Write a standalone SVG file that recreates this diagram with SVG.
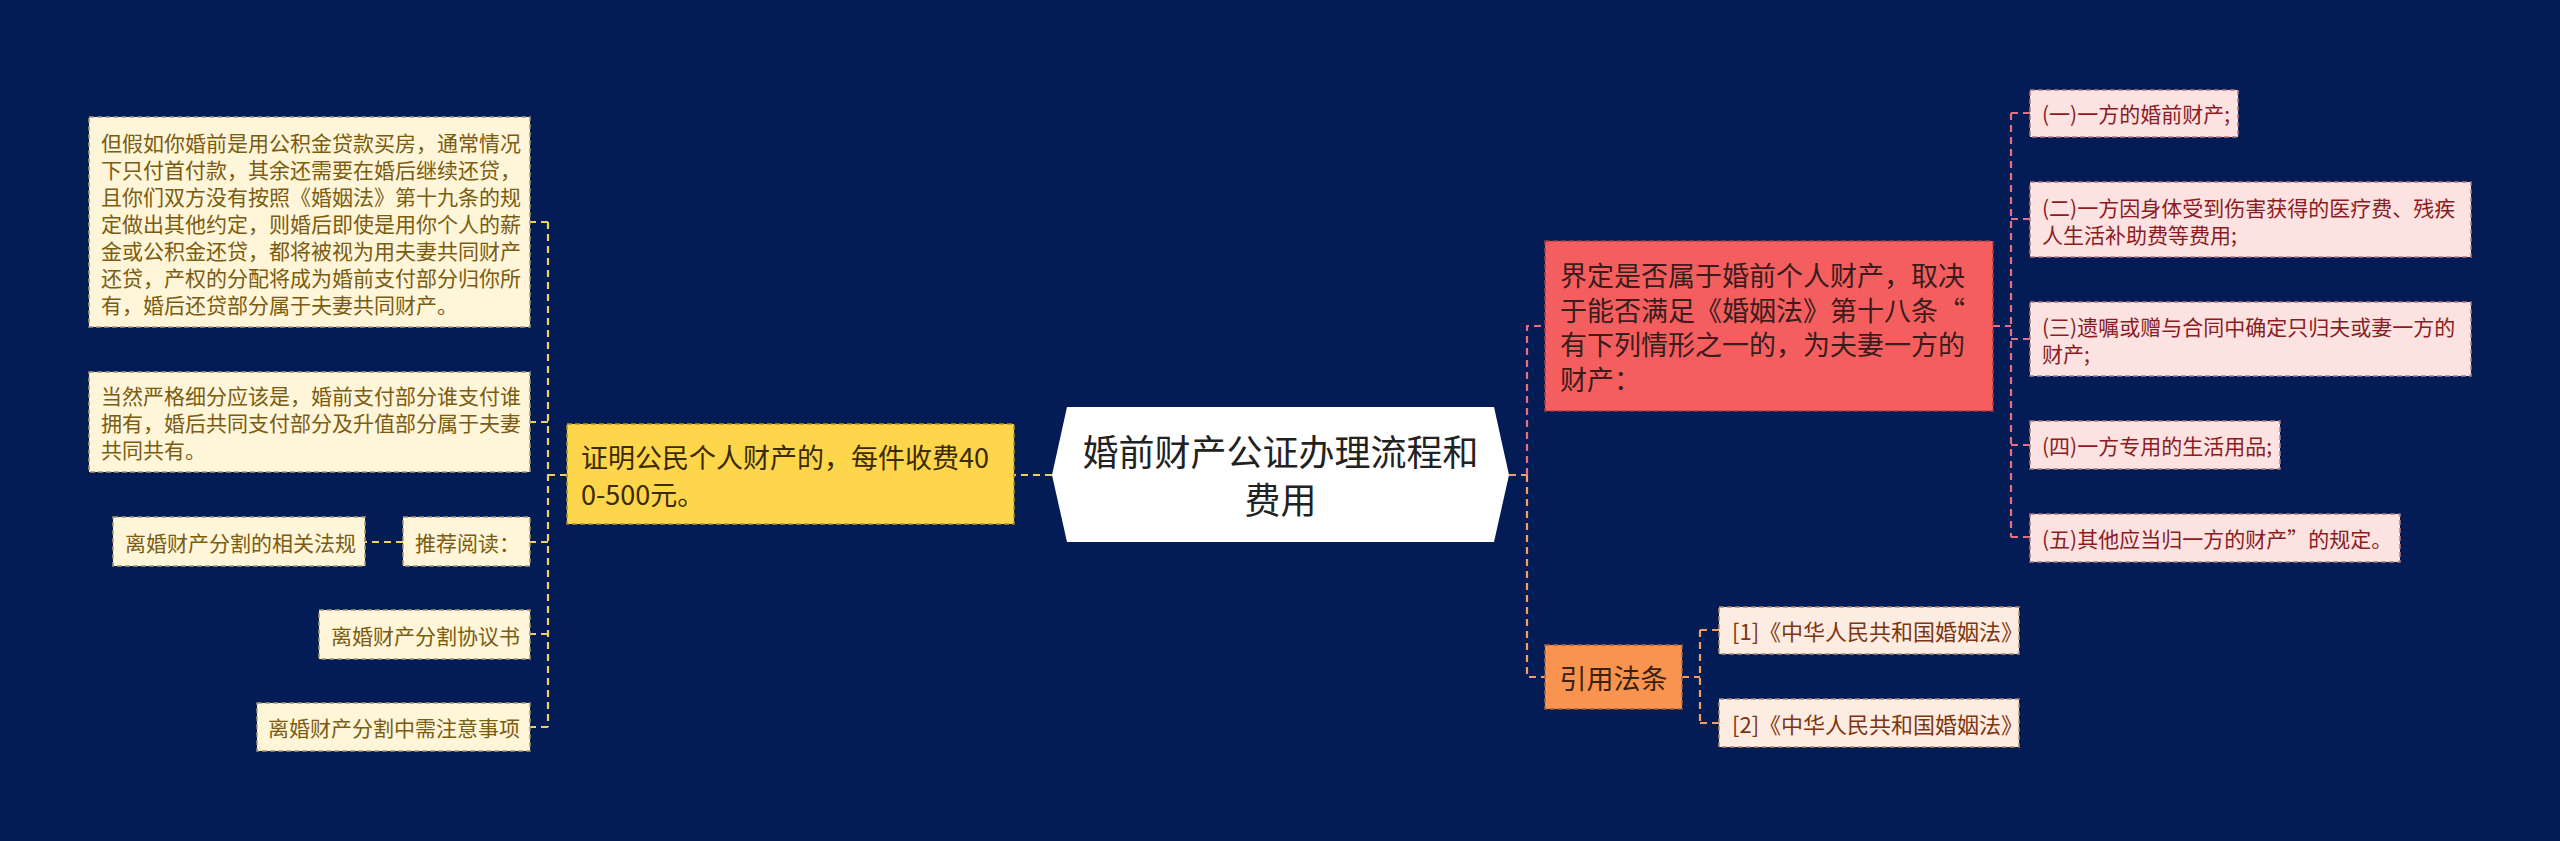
<svg xmlns="http://www.w3.org/2000/svg" width="2560" height="841" viewBox="0 0 2560 841">
<style>
text{font-family:"Noto Sans CJK SC","Noto Sans",sans-serif;dominant-baseline:central}
.box{stroke-width:1.5;stroke-dasharray:5 3}
.cream{fill:#fff5d8;stroke:#a8966a}
.cream-t{fill:#7a5c12;font-size:21px}
.para-t{fill:#7a5c12;font-size:21px}
.pink{fill:#fde2e2;stroke:#b07a80}
.pink-t{fill:#8a1c22;font-size:21px}
.peach{fill:#fdece1;stroke:#b8886a}
.peach-t{fill:#7e3510;font-size:22px}
.c{fill:none;stroke-width:2.2;stroke-dasharray:7 5}
.cy{stroke:#f2cf5b}
.cp{stroke:#ea6f7c}
.co{stroke:#f2a062}
</style>
<rect width="2560" height="841" fill="#031c56"/>
<g id="connectors">
<path class="c cy" d="M1052 475H1014" stroke-dasharray="26 8" stroke-width="3"/>
<path class="c cy" d="M567 475H548M548 222V727M548 222H530M548 422H530M548 542H530M548 634H530M548 727H530M403 542H365"/>
<path class="c co" d="M1509 475H1527" stroke-width="3"/>
<path class="c cp" d="M1527 475V326H1545"/>
<path class="c co" d="M1527 475V677H1545"/>
<path class="c cp" d="M1993 326H2011M2011 113V537M2011 113H2030M2011 219H2030M2011 339H2030M2011 445H2030M2011 537H2030"/>
<path class="c co" d="M1682 677H1700M1700 630V723M1700 630H1719M1700 723H1719"/>
</g>
<g id="root">
<polygon points="1052,475 1067,407 1494,407 1509,475 1494,542 1067,542" fill="#ffffff"/>
<text x="1280.5" y="450" font-size="36" fill="#222222" text-anchor="middle">婚前财产公证办理流程和</text>
<text x="1280.5" y="498" font-size="36" fill="#222222" text-anchor="middle">费用</text>
</g>
<g id="n-yellow">
<rect class="box" x="567" y="424" width="447" height="100" fill="#fdd64b" stroke="#b0932c"/>
<text x="581" y="456" font-size="27" fill="#3a2a05">证明公民个人财产的，每件收费40</text>
<text x="581" y="493" font-size="27" fill="#3a2a05">0-500元。</text>
</g>
<g id="n-para1">
<rect class="box cream" x="89" y="117" width="441" height="210"/>
<text class="para-t" x="101" y="142">但假如你婚前是用公积金贷款买房，通常情况</text>
<text class="para-t" x="101" y="169">下只付首付款，其余还需要在婚后继续还贷，</text>
<text class="para-t" x="101" y="196">且你们双方没有按照《婚姻法》第十九条的规</text>
<text class="para-t" x="101" y="223">定做出其他约定，则婚后即使是用你个人的薪</text>
<text class="para-t" x="101" y="250">金或公积金还贷，都将被视为用夫妻共同财产</text>
<text class="para-t" x="101" y="277">还贷，产权的分配将成为婚前支付部分归你所</text>
<text class="para-t" x="101" y="304">有，婚后还贷部分属于夫妻共同财产。</text>
</g>
<g id="n-para2">
<rect class="box cream" x="89" y="372" width="441" height="100"/>
<text class="para-t" x="101" y="395">当然严格细分应该是，婚前支付部分谁支付谁</text>
<text class="para-t" x="101" y="422">拥有，婚后共同支付部分及升值部分属于夫妻</text>
<text class="para-t" x="101" y="449">共同共有。</text>
</g>
<g id="n-read">
<rect class="box cream" x="403" y="517" width="127" height="49"/>
<text class="cream-t" x="415" y="542">推荐阅读：</text>
</g>
<g id="n-law">
<rect class="box cream" x="113" y="517" width="252" height="49"/>
<text class="cream-t" x="125" y="542">离婚财产分割的相关法规</text>
</g>
<g id="n-agree">
<rect class="box cream" x="319" y="610" width="211" height="49"/>
<text class="cream-t" x="331" y="635">离婚财产分割协议书</text>
</g>
<g id="n-note">
<rect class="box cream" x="257" y="703" width="273" height="48"/>
<text class="cream-t" x="268" y="727">离婚财产分割中需注意事项</text>
</g>
<g id="n-red">
<rect class="box" x="1545" y="241" width="448" height="170" fill="#f55e5e" stroke="#a83a40"/>
<text x="1560" y="274" font-size="27" fill="#3a1c1c">界定是否属于婚前个人财产，取决</text>
<text x="1560" y="309" font-size="27" fill="#3a1c1c">于能否满足《婚姻法》第十八条“</text>
<text x="1560" y="343" font-size="27" fill="#3a1c1c">有下列情形之一的，为夫妻一方的</text>
<text x="1560" y="378" font-size="27" fill="#3a1c1c">财产：</text>
</g>
<g id="n-cite">
<rect class="box" x="1545" y="645" width="137" height="64" fill="#f8944f" stroke="#a8603a"/>
<text x="1613.5" y="677" font-size="27" fill="#3a2210" text-anchor="middle">引用法条</text>
</g>
<g id="n-ref1">
<rect class="box peach" x="1719" y="607" width="300" height="47"/>
<text class="peach-t" x="1732" y="630">[1]《中华人民共和国婚姻法》</text>
</g>
<g id="n-ref2">
<rect class="box peach" x="1719" y="699" width="300" height="48"/>
<text class="peach-t" x="1732" y="723">[2]《中华人民共和国婚姻法》</text>
</g>
<g id="n-p1">
<rect class="box pink" x="2030" y="90" width="208" height="47"/>
<text class="pink-t" x="2042" y="113">(一)一方的婚前财产;</text>
</g>
<g id="n-p2">
<rect class="box pink" x="2030" y="182" width="441" height="75"/>
<text class="pink-t" x="2042" y="207">(二)一方因身体受到伤害获得的医疗费、残疾</text>
<text class="pink-t" x="2042" y="234">人生活补助费等费用;</text>
</g>
<g id="n-p3">
<rect class="box pink" x="2030" y="302" width="441" height="74"/>
<text class="pink-t" x="2042" y="326">(三)遗嘱或赠与合同中确定只归夫或妻一方的</text>
<text class="pink-t" x="2042" y="353">财产;</text>
</g>
<g id="n-p4">
<rect class="box pink" x="2030" y="421" width="250" height="48"/>
<text class="pink-t" x="2042" y="445">(四)一方专用的生活用品;</text>
</g>
<g id="n-p5">
<rect class="box pink" x="2030" y="514" width="370" height="48"/>
<text class="pink-t" x="2042" y="538">(五)其他应当归一方的财产”的规定。</text>
</g>
</svg>
